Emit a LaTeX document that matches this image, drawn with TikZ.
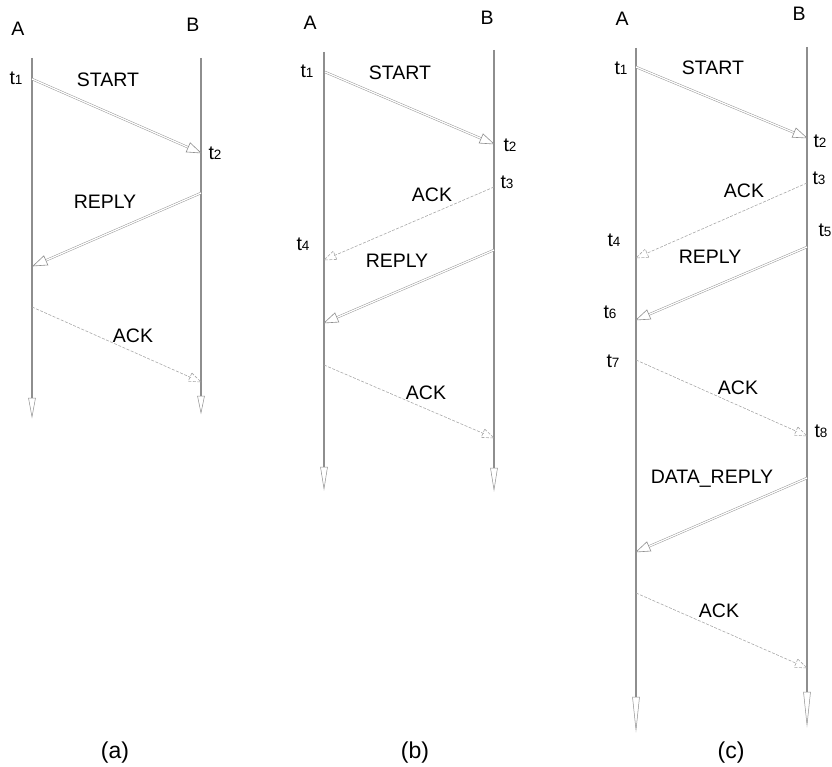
\documentclass[tikz,border=0pt]{standalone}
\usepackage{fontspec}
\setmainfont{Liberation Sans}
\usetikzlibrary{arrows.meta,calc}
\definecolor{lifec}{HTML}{8E8E8E}
\definecolor{msgc}{HTML}{8F8F8F}
\definecolor{ackc}{HTML}{A8A8A8}
\tikzset{
  lbl/.style={anchor=base, inner sep=0pt, font=\fontsize{19.5}{20}\selectfont},
  caplbl/.style={anchor=base, inner sep=0pt, font=\fontsize{23}{24}\selectfont},
  lifeline/.style={draw=lifec, line width=1.1pt},
  msgline/.style={draw=msgc, line width=0.45pt, double=white, double distance=1.3pt},
  msghead/.style={draw=msgc, line width=0.6pt, fill=white, line join=miter},
  ackline/.style={draw=ackc, line width=0.6pt, dash pattern=on 3pt off 1.5pt},
}
\newcommand\tlab[1]{t{\fontsize{13.5}{14}\selectfont #1}}
% message with double line and open head
\newcommand\msgarrow[2]{%
  \draw[msgline] (#1) -- ($(#2)!12pt!(#1)$);
  \draw[msghead] ($($(#2)!14pt!(#1)$)!5pt!90:(#2)$) -- (#2) -- ($($(#2)!14pt!(#1)$)!5pt!-90:(#2)$) -- cycle;
}
% dashed ack with dashed open head
\newcommand\ackarrow[2]{%
  \draw[ackline] (#1) -- ($(#2)!11pt!(#1)$);
  \draw[ackline] ($($(#2)!12pt!(#1)$)!4.5pt!90:(#2)$) -- (#2) -- ($($(#2)!12pt!(#1)$)!4.5pt!-90:(#2)$) -- cycle;
}
% lifeline with narrow open head
\newcommand\lifearrow[3]{%
  \draw[lifeline] (#1) -- ($(#2)!#3!(#1)$);
  \draw[draw=lifec, line width=0.5pt, fill=white] ($($(#2)!#3!(#1)$)!3.5pt!90:(#2)$) -- (#2) -- ($($(#2)!#3!(#1)$)!3.5pt!-90:(#2)$) -- cycle;
}
\begin{document}
\begin{tikzpicture}[x=1pt, y=-1pt]
\useasboundingbox (0,0) rectangle (832,767);

% ---------------- (a) ----------------
\coordinate (aAt) at (32,58);   \coordinate (aAb) at (32,417);
\coordinate (aBt) at (201,58);  \coordinate (aBb) at (201,413);
\lifearrow{aAt}{aAb}{19pt}
\lifearrow{aBt}{aBb}{17pt}
\node[lbl] (aA) at (18,36) {A};
\node[lbl] (aB) at (193,32) {B};
\node[lbl] (at1) at (16,85) {\tlab{1}};
\node[lbl] (at2) at (215,160) {\tlab{2}};
\coordinate (a1) at (32,79);  \coordinate (a2) at (201,153);
\coordinate (a3) at (201,193); \coordinate (a4) at (33,266);
\coordinate (a5) at (32,307);  \coordinate (a6) at (201,382);
\msgarrow{a1}{a2}
\msgarrow{a3}{a4}
\ackarrow{a5}{a6}
\node[lbl] (aS) at (108,87) {START};
\node[lbl] (aR) at (105,209) {REPLY};
\node[lbl] (aK) at (133,342) {ACK};
\node[caplbl] (capa) at (115,758) {(a)};

% ---------------- (b) ----------------
\coordinate (bAt) at (324,52);  \coordinate (bAb) at (324,489);
\coordinate (bBt) at (494,50);  \coordinate (bBb) at (494,490);
\lifearrow{bAt}{bAb}{22pt}
\lifearrow{bBt}{bBb}{22pt}
\node[lbl] (bA) at (310,30) {A};
\node[lbl] (bB) at (487,25) {B};
\node[lbl] (bt1) at (307,78) {\tlab{1}};
\node[lbl] (bt2) at (510,152) {\tlab{2}};
\node[lbl] (bt3) at (507,189) {\tlab{3}};
\node[lbl] (bt4) at (303,251) {\tlab{4}};
\coordinate (b1) at (325,72);  \coordinate (b2) at (494,144);
\coordinate (b3) at (494,187); \coordinate (b4) at (324,260);
\coordinate (b5) at (494,250); \coordinate (b6) at (324,323);
\coordinate (b7) at (324,365); \coordinate (b8) at (494,438);
\msgarrow{b1}{b2}
\ackarrow{b3}{b4}
\msgarrow{b5}{b6}
\ackarrow{b7}{b8}
\node[lbl] (bS) at (400,80) {START};
\node[lbl] (bK1) at (432,202) {ACK};
\node[lbl] (bR) at (397,267) {REPLY};
\node[lbl] (bK2) at (426,399) {ACK};
\node[caplbl] (capb) at (415,758) {(b)};

% ---------------- (c) ----------------
\coordinate (cAt) at (636,48);  \coordinate (cAb) at (636,730);
\coordinate (cBt) at (807,47);  \coordinate (cBb) at (807,725);
\lifearrow{cAt}{cAb}{33pt}
\lifearrow{cBt}{cBb}{33pt}
\node[lbl] (cA) at (622,26) {A};
\node[lbl] (cB) at (799,21) {B};
\node[lbl] (ct1) at (621,75) {\tlab{1}};
\node[lbl] (ct2) at (820,148) {\tlab{2}};
\node[lbl] (ct3) at (819,185) {\tlab{3}};
\node[lbl] (ct4) at (614,247) {\tlab{4}};
\node[lbl] (ct5) at (825,237) {\tlab{5}};
\node[lbl] (ct6) at (610,318) {\tlab{6}};
\node[lbl] (ct7) at (613,367) {\tlab{7}};
\node[lbl] (ct8) at (821,437) {\tlab{8}};
\coordinate (c1) at (636,67);   \coordinate (c2) at (807,138);
\coordinate (c3) at (807,183);  \coordinate (c4) at (636,258);
\coordinate (c5) at (807,247);  \coordinate (c6) at (636,320);
\coordinate (c7) at (636,360);  \coordinate (c8) at (807,436);
\coordinate (c9) at (807,478);  \coordinate (c10) at (636,552);
\coordinate (c11) at (636,593); \coordinate (c12) at (807,668);
\msgarrow{c1}{c2}
\ackarrow{c3}{c4}
\msgarrow{c5}{c6}
\ackarrow{c7}{c8}
\msgarrow{c9}{c10}
\ackarrow{c11}{c12}
\node[lbl] (cS) at (713,75) {START};
\node[lbl] (cK1) at (744,198) {ACK};
\node[lbl] (cR) at (710,263) {REPLY};
\node[lbl] (cK2) at (738,394) {ACK};
\node[lbl] (cD) at (712,483) {DATA\_REPLY};
\node[lbl] (cK3) at (719,617) {ACK};
\node[caplbl] (capc) at (731,758) {(c)};
\end{tikzpicture}
\end{document}
